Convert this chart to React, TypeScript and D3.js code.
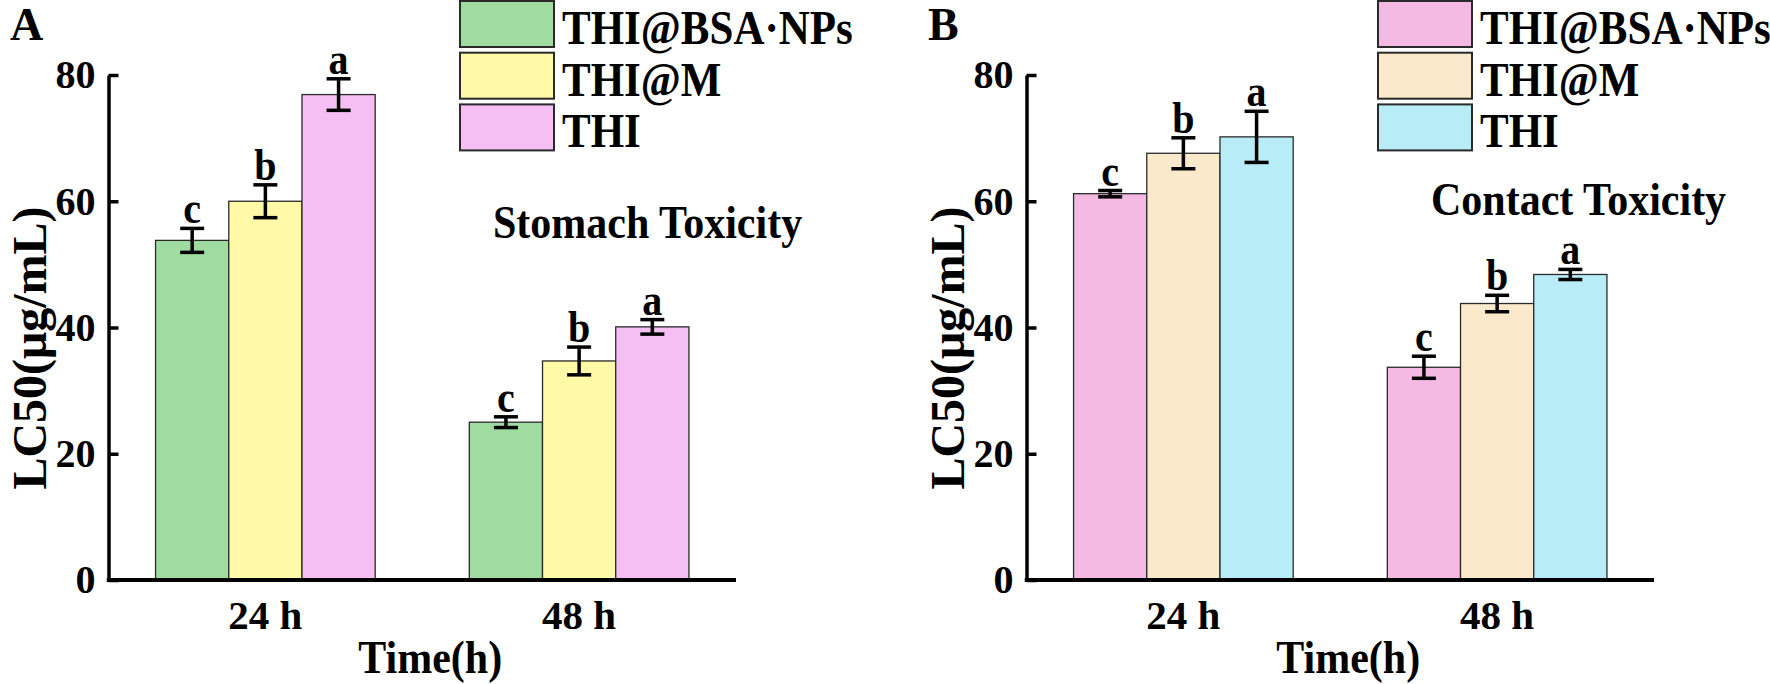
import React, { useRef, useEffect } from 'react';
import * as d3 from 'd3';

// Categories and series
const groups = ['24 h', '48 h'];
const seriesNames = ['THI@BSA·NPs', 'THI@M', 'THI'];
const letters = ['c', 'b', 'a'];
const yTicks = [0, 20, 40, 60, 80];

// Stomach toxicity (panel A), LC50 ug/mL
const stomachBSA = [53.8, 25.0];
const stomachM = [60.0, 34.7];
const stomachTHI = [76.9, 40.1];
const stomachBSAErr = [1.9, 0.85];
const stomachMErr = [2.6, 2.2];
const stomachTHIErr = [2.5, 1.15];

// Contact toxicity (panel B)
const contactBSA = [61.2, 33.7];
const contactM = [67.6, 43.8];
const contactTHI = [70.2, 48.4];
const contactBSAErr = [0.5, 1.75];
const contactMErr = [2.45, 1.3];
const contactTHIErr = [4.05, 0.8];

const colorsA = ['#a0dca0', '#fff9a8', '#f6bff4'];
const colorsB = ['#f5bae3', '#fae9cb', '#b8ecf6'];

const FONT = '"Liberation Serif", "Times New Roman", serif';

interface PanelProps {
  ox: number;
  tag: string;
  title: string;
  titleX: number;
  titleY: number;
  means: number[][];
  errs: number[][];
  colors: string[];
}

function Panel({ ox, tag, title, titleX, titleY, means, errs, colors }: PanelProps) {
  const gRef = useRef<SVGGElement>(null);

  useEffect(() => {
    if (!gRef.current) return;
    const g = d3.select(gRef.current);
    g.selectAll('*').remove();

    const x0 = 108.5;
    const x1 = 736;
    const yScale = d3.scaleLinear().domain([0, 80]).range([580, 75]);
    const xGroup = d3.scaleBand<string>()
      .domain(groups)
      .range([x0, x1])
      .paddingInner(0.3)
      .paddingOuter(0.15);
    const xSeries = d3.scaleBand<number>()
      .domain([0, 1, 2])
      .range([0, xGroup.bandwidth()]);

    // bars
    seriesNames.forEach((_, si) => {
      g.selectAll(`.bar-${si}`)
        .data(groups)
        .enter()
        .append('rect')
        .attr('x', d => (xGroup(d) || 0) + (xSeries(si) || 0))
        .attr('y', (_d, gi) => yScale(means[si][gi]))
        .attr('width', xSeries.bandwidth())
        .attr('height', (_d, gi) => yScale(0) - yScale(means[si][gi]))
        .attr('fill', colors[si])
        .attr('stroke', '#2a2a2a')
        .attr('stroke-width', 1.3);
    });

    // error bars + letters
    const cap = 12;
    seriesNames.forEach((_, si) => {
      groups.forEach((grp, gi) => {
        const cx = (xGroup(grp) || 0) + (xSeries(si) || 0) + xSeries.bandwidth() / 2;
        const top = yScale(means[si][gi] + errs[si][gi]);
        const bot = yScale(means[si][gi] - errs[si][gi]);
        const eg = g.append('g').attr('stroke', '#000').attr('stroke-width', 3.5);
        eg.append('line').attr('x1', cx).attr('x2', cx).attr('y1', top).attr('y2', bot);
        eg.append('line').attr('x1', cx - cap).attr('x2', cx + cap).attr('y1', top).attr('y2', top);
        eg.append('line').attr('x1', cx - cap).attr('x2', cx + cap).attr('y1', bot).attr('y2', bot);
        g.append('text')
          .attr('transform', `translate(${cx},${top - 5}) scale(1,1.1)`)
          .attr('text-anchor', 'middle')
          .attr('font-family', FONT)
          .attr('font-weight', 'bold')
          .attr('font-size', 40)
          .text(letters[si]);
      });
    });

    // y axis
    const yAxis = d3.axisLeft(yScale).tickValues(yTicks).tickSize(-10).tickPadding(13).tickSizeOuter(0);
    const ya = g.append('g').attr('transform', `translate(${x0},0)`).call(yAxis);
    ya.select('.domain').attr('stroke', '#000').attr('stroke-width', 3.5);
    ya.selectAll('.tick line').attr('stroke', '#000').attr('stroke-width', 3.5);
    ya.selectAll('.tick text')
      .attr('font-family', FONT)
      .attr('font-weight', 'bold')
      .attr('font-size', 40)
      .attr('fill', '#000');

    // x axis
    const xAxis = d3.axisBottom(xGroup).tickSize(0).tickPadding(20).tickSizeOuter(0);
    const xa = g.append('g').attr('transform', `translate(0,${yScale(0)})`).call(xAxis);
    xa.select('.domain').attr('stroke', '#000').attr('stroke-width', 4)
      .attr('d', `M${x0 - 1.75},0H${x1}`);
    xa.selectAll('.tick text')
      .attr('font-family', FONT)
      .attr('font-weight', 'bold')
      .attr('font-size', 41)
      .attr('fill', '#000');

    // axis titles
    g.append('text')
      .attr('transform', `translate(${(x0 + x1) / 2 + 8},673) scale(1,1.08)`)
      .attr('text-anchor', 'middle')
      .attr('font-family', FONT)
      .attr('font-weight', 'bold')
      .attr('font-size', 42)
      .text('Time(h)');
    g.append('text')
      .attr('transform', `translate(46,348) rotate(-90)`)
      .attr('text-anchor', 'middle')
      .attr('font-family', FONT)
      .attr('font-weight', 'bold')
      .attr('font-size', 48)
      .text('LC50(μg/mL)');

    // panel tag and title
    g.append('text')
      .attr('x', 10)
      .attr('y', 40)
      .attr('font-family', FONT)
      .attr('font-weight', 'bold')
      .attr('font-size', 46)
      .text(tag);
    g.append('text')
      .attr('transform', `translate(${titleX},${titleY}) scale(1,1.08)`)
      .attr('font-family', FONT)
      .attr('font-weight', 'bold')
      .attr('font-size', 42)
      .text(title);

    // legend
    seriesNames.forEach((name, si) => {
      const ly = 1 + si * 51.7;
      g.append('rect')
        .attr('x', 460)
        .attr('y', ly)
        .attr('width', 94)
        .attr('height', 46)
        .attr('fill', colors[si])
        .attr('stroke', '#2a2a2a')
        .attr('stroke-width', 2);
      g.append('text')
        .attr('transform', `translate(562,${ly + 43}) scale(1,1.15)`)
        .attr('font-family', FONT)
        .attr('font-weight', 'bold')
        .attr('font-size', 43)
        .text(name);
    });
  }, [ox, tag, title, titleX, titleY, means, errs, colors]);

  return <g ref={gRef} transform={`translate(${ox},0)`} />;
}

export default function App() {
  return (
    <svg
      width={1770}
      height={684}
      style={{ position: 'absolute', left: 0, top: 0, background: '#fff' }}
    >
      <Panel
        ox={0}
        tag="A"
        title="Stomach Toxicity"
        titleX={493}
        titleY={238}
        means={[stomachBSA, stomachM, stomachTHI]}
        errs={[stomachBSAErr, stomachMErr, stomachTHIErr]}
        colors={colorsA}
      />
      <Panel
        ox={918}
        tag="B"
        title="Contact Toxicity"
        titleX={513}
        titleY={215}
        means={[contactBSA, contactM, contactTHI]}
        errs={[contactBSAErr, contactMErr, contactTHIErr]}
        colors={colorsB}
      />
    </svg>
  );
}
